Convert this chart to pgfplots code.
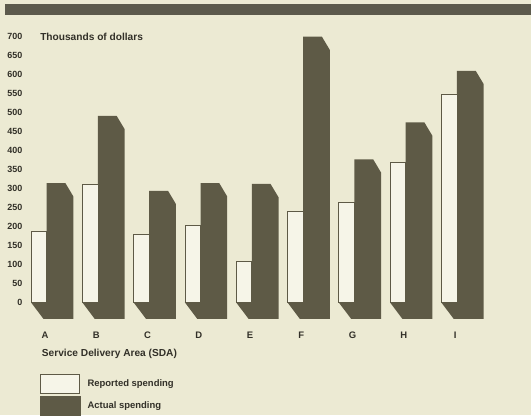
\documentclass[border=0pt]{standalone}
\usepackage{pgfplots}
\pgfplotsset{compat=1.18}
\usepackage{pgfplotstable}
\usepackage{fontspec}
\setmainfont{Liberation Sans}
\definecolor{bg}{RGB}{236,234,211}
\definecolor{barcol}{RGB}{94,90,70}
\definecolor{band}{RGB}{92,90,76}
\definecolor{txt}{RGB}{50,48,40}
\definecolor{wbar}{RGB}{246,245,232}

\pgfplotstableread{
x reported actual
0 186 314
1 311 491
2 180 294
3 202 314
4 107 312
5 239 700
6 264 377
7 368 474
8 549 610
}\datatable

\begin{document}
\begin{tikzpicture}
\begin{axis}[
  scale only axis, width=531bp, height=415bp,
  xmin=-0.6043, xmax=9.7466, ymin=-296.05, ymax=796.05,
  axis background/.style={fill=bg},
  axis line style={draw=none},
  major tick length=0pt,
  /pgf/number format/assume math mode=true,
  xtick={0.27,1.27,2.27,3.27,4.27,5.27,6.27,7.27,8.27},
  xticklabels={A,B,C,D,E,F,G,H,I},
  ytick={0,50,...,700},
  yticklabel style={anchor=east, inner sep=0pt, xshift=22.5bp, text=txt,
    font=\bfseries\fontsize{9}{9}\selectfont},
  xticklabel style={anchor=center, inner sep=0pt, yshift=80bp, text=txt,
    font=\bfseries\fontsize{9.5}{9.5}\selectfont},
  ylabel={Thousands of dollars},
  every axis y label/.style={at={(rel axis cs:0.0753,0.9116)}, anchor=west,
    inner sep=0pt, text=txt, font=\bfseries\fontsize{10.2}{10.2}\selectfont},
  xlabel={Service Delivery Area (SDA)},
  every axis x label/.style={at={(rel axis cs:0.0785,0.1482)}, anchor=west,
    inner sep=0pt, text=txt, font=\bfseries\fontsize{10.2}{10.2}\selectfont},
  legend image code/.code={\draw[#1] (0bp,-9.25bp) rectangle (39.3bp,9.25bp);},
  legend cell align=left,
  legend style={at={(rel axis cs:0.0753,0.0981)}, anchor=north west,
    draw=none, fill=none, inner sep=0pt, outer sep=0pt, row sep=2.5bp,
    text=txt, font=\bfseries\fontsize{9.5}{9.5}\selectfont,
    nodes={inner sep=0pt},
    /tikz/every odd column/.append style={column sep=7.4bp}},
]
\addlegendimage{fill=wbar, draw=barcol, line width=0.8pt}
\addlegendentry{Reported spending}
\addlegendimage{fill=barcol, draw=barcol}
\addlegendentry{Actual spending}

\pgfplotsinvokeforeach{0,...,8}{
  \pgfplotstablegetelem{#1}{actual}\of\datatable
  \pgfmathsetmacro\va{\pgfplotsretval}
  \pgfmathsetmacro\vc{\va-35}
  \pgfmathsetmacro\xa{#1+0.24}
  \pgfmathsetmacro\xr{#1+0.825}
  \pgfmathsetmacro\xc{#1+0.67}
  \pgfmathsetmacro\xw{#1+0.304}
  \edef\temp{\noexpand\addplot[fill=barcol, draw=none, forget plot]
    coordinates {(#1,0) (\xa,-43) (\xr,-43) (\xr,\vc) (\xc,\va) (\xw,\va) (\xw,0)} -- cycle;}
  \temp
}

\addplot[ybar, bar width=0.304, bar shift=0pt, fill=wbar, draw=barcol,
  line width=0.8pt, forget plot]
  table[x expr=\thisrow{x}+0.152, y=reported] {\datatable};

\fill[band] (rel axis cs:0.0094,0.9904) rectangle (rel axis cs:1,0.9639);
\end{axis}
\end{tikzpicture}
\end{document}
